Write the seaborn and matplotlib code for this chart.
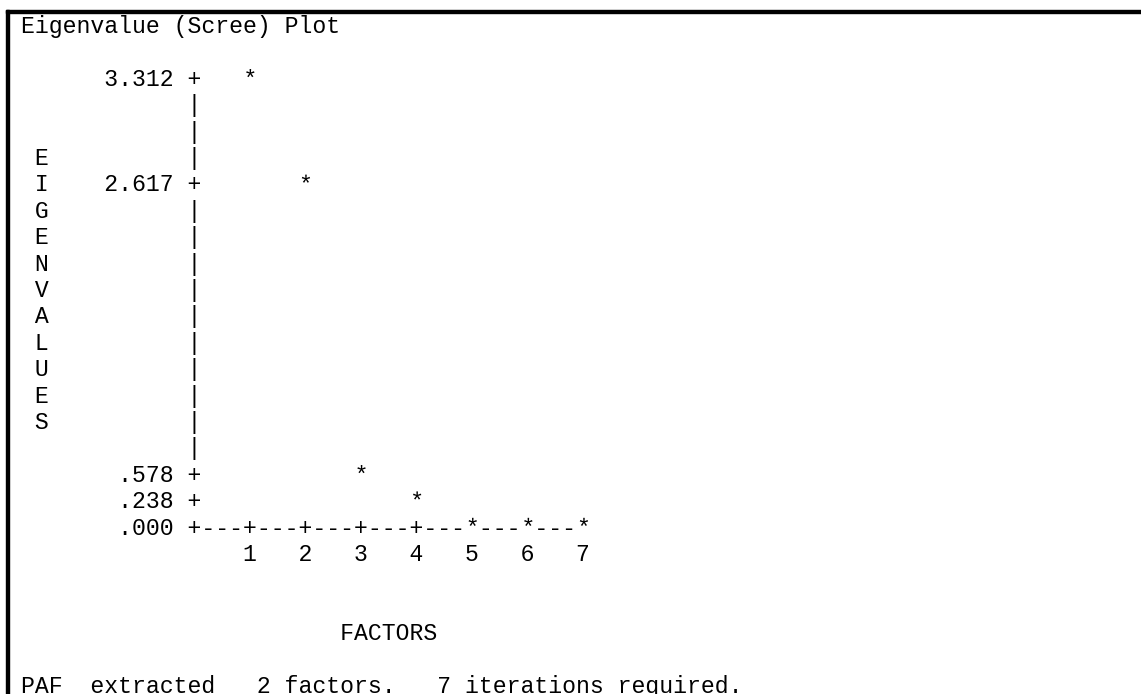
import math
import numpy as np
import pandas as pd
import matplotlib
matplotlib.use("Agg")
import matplotlib.pyplot as plt
import seaborn as sns
from matplotlib.textpath import TextPath
from matplotlib.font_manager import FontProperties
from matplotlib.path import Path
from matplotlib.patches import Rectangle

# -------------------------------
# Data
# -------------------------------
factors = [1, 2, 3, 4, 5, 6, 7]
eigenvalues = [3.312, 2.617, 0.578, 0.238, 0.110, 0.085, 0.060]
title = "Eigenvalue (Scree) Plot"
y_title = "EIGENVALUES"
x_title = "FACTORS"
footer = "PAF  extracted   2 factors.   7 iterations required."

# -------------------------------
# Character grid layout (line-printer style)
# -------------------------------
TOP_ROW, AXIS_ROW = 2, 19      # first / last row of the plot area
AXIS_COL, STEP = 12, 4         # y axis column, columns per factor
N_ROWS, N_COLS = 26, 60

X0, CW = 21.0, 13.9            # left edge of column 0, char width (px)
BASE0, RH = 33.0, 26.4         # baseline of row 0, row height (px)
FS = CW / 0.6 * 72 / 100       # font size giving CW px per char
FONT = "Liberation Mono"

sns.set_theme(style="white")
plt.rcParams["font.family"] = [FONT, "DejaVu Sans Mono"]


def fmt(v):
    s = f"{v:.3f}"
    return s[1:] if s.startswith("0") else s


vmax = max(eigenvalues)
span = AXIS_ROW - TOP_ROW
star_rows = [AXIS_ROW - math.floor(v / vmax * span) for v in eigenvalues]
star_cols = [AXIS_COL + STEP * f for f in factors]

grid = [[" "] * N_COLS for _ in range(N_ROWS)]


def put(row, col, text):
    for i, ch in enumerate(text):
        grid[row][col + i] = ch


put(0, 0, title)

# vertical axis title
start = (TOP_ROW + AXIS_ROW) // 2 - len(y_title) // 2
for i, ch in enumerate(y_title):
    put(start + i, 1, ch)

# y axis with tick labels at rows that hold a point
labelled = {}
for v, r in zip(eigenvalues, star_rows):
    if r != AXIS_ROW and r not in labelled:
        labelled[r] = fmt(v)
labelled[AXIS_ROW] = fmt(0.0)
for r in range(TOP_ROW, AXIS_ROW):
    put(r, AXIS_COL, "+" if r in labelled else "|")
for r, lab in labelled.items():
    put(r, AXIS_COL - 1 - len(lab), lab)

# x axis
last_col = AXIS_COL + STEP * max(factors)
for c in range(AXIS_COL, last_col + 1):
    put(AXIS_ROW, c, "+" if (c - AXIS_COL) % STEP == 0 else "-")
for f, c in zip(factors, star_cols):
    put(AXIS_ROW + 1, c, str(f))

# leave room for the points; they are drawn as markers below
for r, c in zip(star_rows, star_cols):
    grid[r][c] = " "

center = (AXIS_COL + last_col) // 2
put(23, center - len(x_title) // 2, x_title)
put(25, 0, footer)

# -------------------------------
# Draw
# -------------------------------
fig = plt.figure(figsize=(11.41, 6.94), dpi=100)
ax = fig.add_axes([0, 0, 1, 1])
ax.set_xlim(0, 1141)
ax.set_ylim(694, 0)
ax.set_axis_off()

for k, row in enumerate(grid):
    line = "".join(row).rstrip()
    if line:
        ax.text(X0, BASE0 + RH * k, line, ha="left", va="baseline",
                family=FONT, fontsize=FS, color="black")

# '*' glyph as a marker, origin at the glyph's baseline centre
tp = TextPath((0, 0), "*", size=FS, prop=FontProperties(family=FONT))
verts = tp.vertices - np.array([0.6 * FS / 2, 0.0])
star = Path(verts, tp.codes)
msize = 2 * np.max(np.abs(verts))

pts = pd.DataFrame({
    "x": [X0 + CW * (c + 0.5) for c in star_cols],
    "y": [BASE0 + RH * r for r in star_rows],
})
sns.scatterplot(data=pts, x="x", y="y", marker=star, s=msize ** 2,
                color="black", edgecolor="none", linewidth=0, ax=ax,
                legend=False)
ax.set_axis_off()

# frame lines at top and left
ax.add_patch(Rectangle((6, 10), 1141 - 6, 3, color="black"))
ax.add_patch(Rectangle((6, 10), 3, 694 - 10, color="black"))

fig.savefig("out.png", dpi=100)
